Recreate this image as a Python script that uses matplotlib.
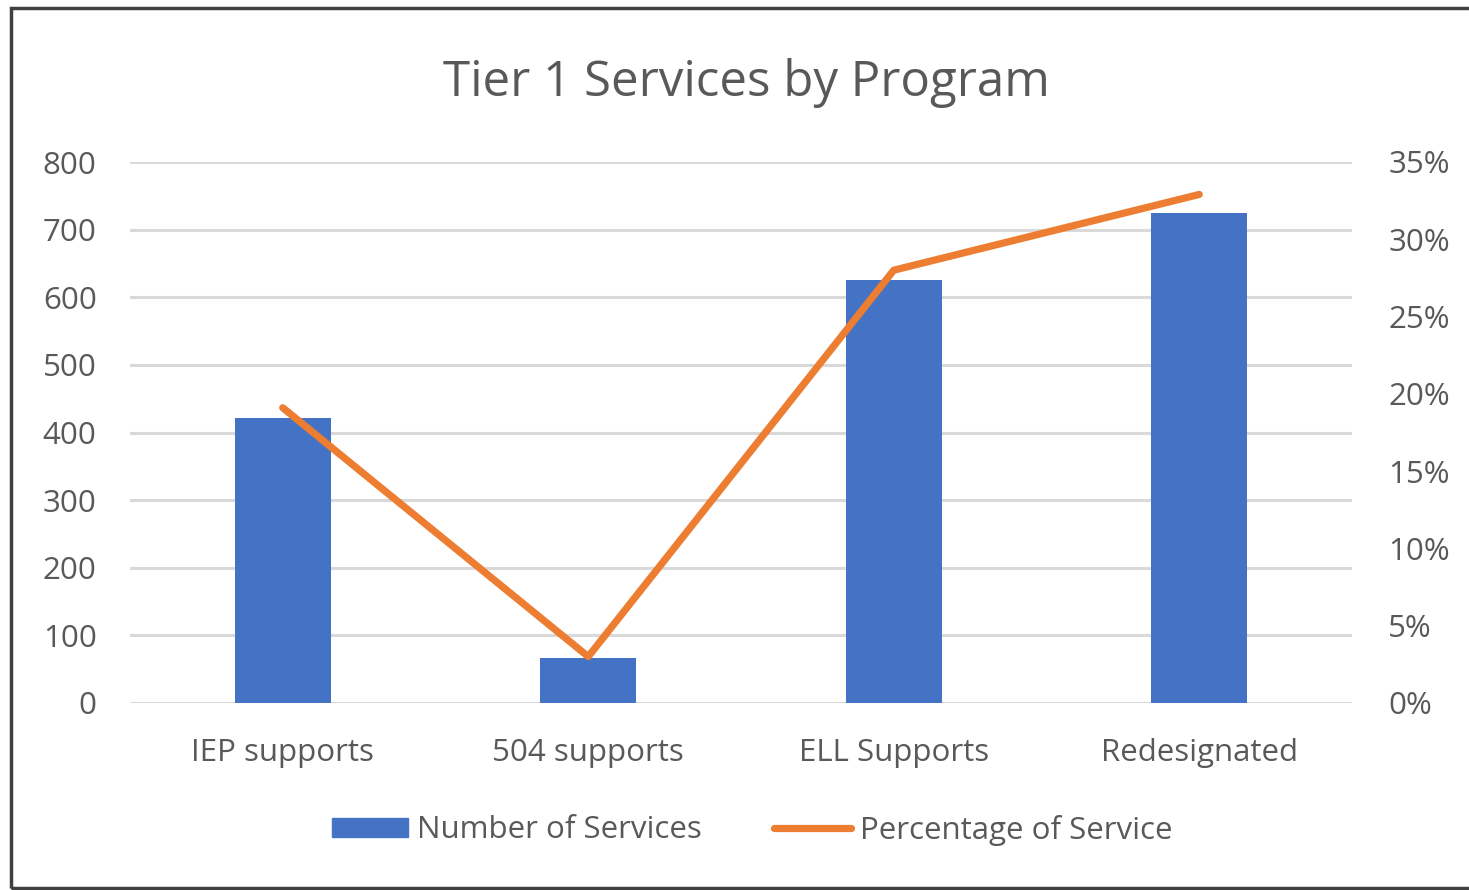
import matplotlib.pyplot as plt
import matplotlib.patches as mpatches
from matplotlib.lines import Line2D
from matplotlib.ticker import FuncFormatter

# data
programs = ["IEP supports", "504 supports", "ELL Supports", "Redesignated"]
num_services = [422, 66, 626, 725]
pct_service = [19.1, 3.0, 28.0, 32.9]

plt.rcParams['font.family'] = ['Open Sans', 'DejaVu Sans']
TXT = '#595959'
BAR = '#4472C4'
LINE = '#ED7D31'
GRID = '#D9D9D9'

fig = plt.figure(figsize=(14.69, 8.90), dpi=100)
fig.patch.set_facecolor('white')

# outer frame of the chart area
frame = mpatches.Rectangle((11 / 1469, 2 / 890), 1.0, 880 / 890, transform=fig.transFigure,
                           fill=False, edgecolor='#404040', linewidth=2.5, clip_on=False)
fig.patches.append(frame)

ax = fig.add_axes([130 / 1469, 187 / 890, 1222 / 1469, 541 / 890])
x = range(len(programs))
ax.bar(x, num_services, width=0.314, color=BAR, zorder=2)
ax.set_xlim(-0.5, 3.5)
ax.set_ylim(0, 800)
ax.set_yticks(range(0, 801, 100))
ax.set_xticks(list(x))
ax.set_xticklabels(programs)
ax.grid(axis='y', color=GRID, linewidth=2.2, zorder=0)
ax.set_axisbelow(True)
for s in ax.spines.values():
    s.set_visible(False)
ax.tick_params(axis='both', length=0, labelsize=22.5, colors=TXT)
ax.tick_params(axis='y', pad=24)
ax.tick_params(axis='x', pad=25)

ax2 = ax.twinx()
ax2.plot(x, pct_service, color=LINE, linewidth=5.2, solid_capstyle='round', zorder=3)
ax2.set_ylim(0, 35)
ax2.set_yticks(range(0, 36, 5))
ax2.yaxis.set_major_formatter(FuncFormatter(lambda v, p: f"{int(v)}%"))
for s in ax2.spines.values():
    s.set_visible(False)
ax2.tick_params(axis='y', length=0, labelsize=22.5, colors=TXT, pad=26)

fig.text(746 / 1469, 1 - 83 / 890, "Tier 1 Services by Program", ha='center', va='center',
         fontsize=35.5, color=TXT)

handles = [mpatches.Patch(color=BAR, label="Number of Services"),
           Line2D([], [], color=LINE, linewidth=5.2, solid_capstyle='round',
                  label="Percentage of Service")]
fig.legend(handles=handles, loc='center', bbox_to_anchor=(752 / 1469, 1 - 830 / 890),
           ncol=2, frameon=False, fontsize=22.5, labelcolor=TXT, handlelength=2.45,
           handleheight=0.6, handletextpad=0.3, columnspacing=2.3)

fig.savefig("out.png", dpi=100)
